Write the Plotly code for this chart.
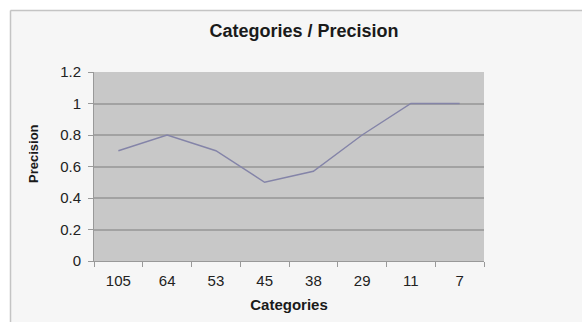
import plotly.graph_objects as go

# Chart data
categories = ["105", "64", "53", "45", "38", "29", "11", "7"]
precision = [0.7, 0.8, 0.7, 0.5, 0.57, 0.8, 1.0, 1.0]
y_ticks = [0, 0.2, 0.4, 0.6, 0.8, 1.0, 1.2]
y_tick_labels = ["0", "0.2", "0.4", "0.6", "0.8", "1", "1.2"]

W, H = 582, 322
L, R, T, B = 94, 98, 72, 61
pw, ph = W - L - R, H - T - B


def px_x(x):
    return (x - L) / pw


def px_y(y):
    return (H - B - y) / ph


FONT = "Liberation Sans, Arial, sans-serif"

fig = go.Figure(
    go.Scatter(
        x=categories,
        y=precision,
        mode="lines",
        line=dict(color="#8484a8", width=1.4),
        hoverinfo="x+y",
    )
)

fig.update_layout(
    width=W,
    height=H,
    margin=dict(l=L, r=R, t=T, b=B, pad=0),
    paper_bgcolor="#f6f6f6",
    plot_bgcolor="#c8c8c8",
    showlegend=False,
    font=dict(family=FONT, color="#222222"),
    title=dict(
        text="<b>Categories / Precision</b>",
        font=dict(size=18, family=FONT, color="#1a1a1a"),
        xref="container",
        x=304 / W,
        xanchor="center",
        yref="container",
        y=1 - 30.5 / H,
        yanchor="middle",
    ),
    xaxis=dict(
        type="category",
        range=[-0.5, len(categories) - 0.5],
        tickson="boundaries",
        ticks="outside",
        ticklen=5,
        tickcolor="#999999",
        showline=True,
        linecolor="#999999",
        linewidth=1,
        showgrid=False,
        tickfont=dict(size=15, color="#222222"),
        ticklabelstandoff=6,
        title=dict(
            text="<b>Categories</b>",
            font=dict(size=15, color="#1a1a1a"),
            standoff=11,
        ),
    ),
    yaxis=dict(
        range=[0, 1.2],
        tickvals=y_ticks,
        ticktext=y_tick_labels,
        ticks="outside",
        ticklen=5,
        tickcolor="#999999",
        showline=True,
        linecolor="#999999",
        linewidth=1,
        showgrid=True,
        gridcolor="#a2a2a2",
        gridwidth=2,
        zeroline=False,
        tickfont=dict(size=15, color="#222222"),
        ticklabelstandoff=4,
    ),
    annotations=[
        dict(
            text="<b>Precision</b>",
            xref="paper",
            yref="paper",
            x=px_x(33),
            y=px_y(154),
            xanchor="center",
            yanchor="middle",
            textangle=-90,
            showarrow=False,
            font=dict(size=13, family=FONT, color="#1a1a1a"),
        )
    ],
    shapes=[
        # white strips outside the chart frame
        dict(type="rect", xref="paper", yref="paper",
             x0=px_x(0), x1=px_x(W), y0=px_y(0), y1=px_y(10),
             fillcolor="white", line=dict(width=0), layer="below"),
        dict(type="rect", xref="paper", yref="paper",
             x0=px_x(0), x1=px_x(10), y0=px_y(0), y1=px_y(H),
             fillcolor="white", line=dict(width=0), layer="below"),
        # frame border (top and left edges)
        dict(type="line", xref="paper", yref="paper",
             x0=px_x(10.5), x1=px_x(W), y0=px_y(10.5), y1=px_y(10.5),
             line=dict(color="#c4c4c4", width=1.5)),
        dict(type="line", xref="paper", yref="paper",
             x0=px_x(10.5), x1=px_x(10.5), y0=px_y(10.5), y1=px_y(H),
             line=dict(color="#c4c4c4", width=1.5)),
    ],
)

fig.write_html("out.html")
